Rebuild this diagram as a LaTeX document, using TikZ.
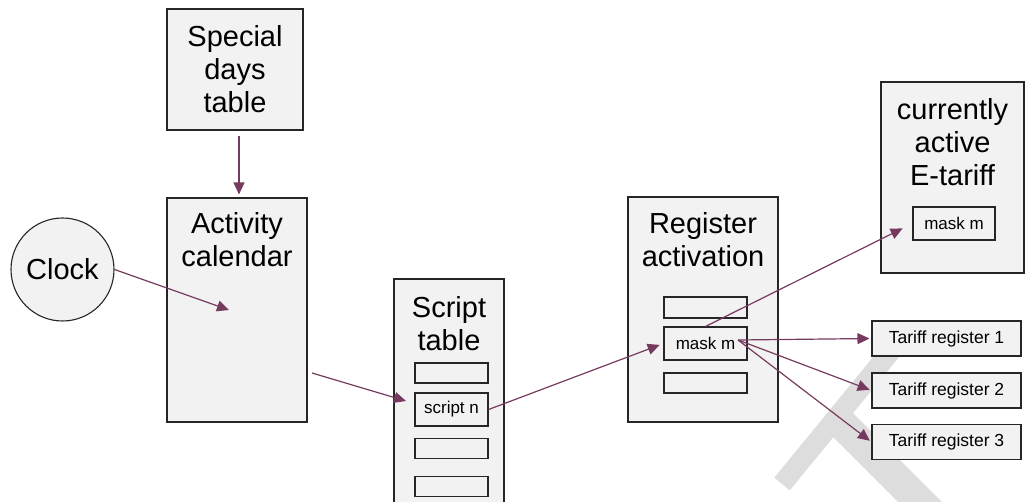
\documentclass[tikz,border=0pt]{standalone}
\usepackage{fontspec}
\setmainfont{Liberation Sans}
\usetikzlibrary{arrows.meta,positioning}
\definecolor{linkred}{RGB}{118,58,94}
\definecolor{boxgray}{RGB}{242,242,242}
\definecolor{markgray}{RGB}{221,221,221}

\begin{document}
\begin{tikzpicture}[x=1pt,y=-1pt,>={Triangle[length=12pt,width=11pt]},
    block/.style={draw=black!85,fill=boxgray,line width=1.1pt,inner sep=0pt},
    big text/.style={font=\fontsize{29}{33}\selectfont,align=center,inner sep=0pt},
    slot/.style={block,minimum width=73pt,minimum height=20pt,font=\fontsize{17}{20}\selectfont},
    reg/.style={block,minimum width=149pt,minimum height=35pt,font=\fontsize{17.5}{20}\selectfont},
    link/.style={every edge/.style={draw=linkred,line width=1.2pt,->}}]
    \clip (0,0) rectangle (1025,502);

    % watermark in the background
    \draw[markgray,line width=20pt] (900,340) -- (782,484);
    \draw[markgray,line width=31pt] (836,418) -- (960,542);

    \node[block,big text,minimum width=136pt,minimum height=121pt] (days) at (235,69.5) {Special\\days\\table};
    \node[block,circle,minimum size=103pt,font=\fontsize{29}{33}\selectfont] (clock) at (62.5,269.5) {Clock};

    \node[block,minimum width=140pt,minimum height=224pt] (act) at (237,310) {};
    \node[big text,below=15pt of act.north] (actt) {Activity\\calendar};

    \node[block,minimum width=110pt,minimum height=251pt] (scr) at (449,404.5) {};
    \node[big text,below=18pt of scr.north] (scrt) {Script\\table};
    \node[slot] (s1) at (451.5,373) {};
    \node[slot,minimum height=33pt] (sn) at (451.5,409.5) {script n};
    \node[slot] (s3) at (451.5,448.5) {};
    \node[slot] (s4) at (451.5,486.5) {};

    \node[block,minimum width=150pt,minimum height=225pt] (ra) at (703,309.5) {};
    \node[big text,below=16pt of ra.north] (rat) {Register\\activation};
    \node[slot,minimum width=83pt,minimum height=21pt] (m1) at (705.5,307.5) {};
    \node[slot,minimum width=83pt,minimum height=33pt] (mask) at (705.5,343.5) {mask m};
    \node[slot,minimum width=83pt] (m3) at (705.5,383) {};

    \node[block,minimum width=143pt,minimum height=191pt] (cur) at (952.5,177.5) {};
    \node[big text,below=17pt of cur.north] (curt) {currently\\active\\E-tariff};
    \node[slot,minimum width=82pt,minimum height=33pt] (cm) at (954,223.5) {mask m};

    \node[reg] (tr1) at (946.5,338.5) {Tariff register 1};
    \node[reg] (tr2) at (946.5,390.5) {Tariff register 2};
    \node[reg] (tr3) at (946.5,442) {Tariff register 3};

    \coordinate (clkin) at (229,310);
    \coordinate (actout) at (312,373);
    \coordinate (scrin) at (406,401);
    \coordinate (mout) at (738,340);

    \path[link]
    ([xshift=4pt]days.south) edge [shorten <=5pt,shorten >=3pt] ([xshift=2pt]act.north)
    (clock.east) edge (clkin)
    (actout) edge (scrin)
    (sn.east) edge [shorten >=4pt] (mask.west)
    (mask.north) edge [shorten >=11pt] (cm.west)
    (mout) edge [shorten >=2pt] (tr1.west)
    (mout) edge [shorten >=2pt] (tr2.west)
    (mout) edge [shorten >=2pt] (tr3.west);
\end{tikzpicture}
\end{document}
